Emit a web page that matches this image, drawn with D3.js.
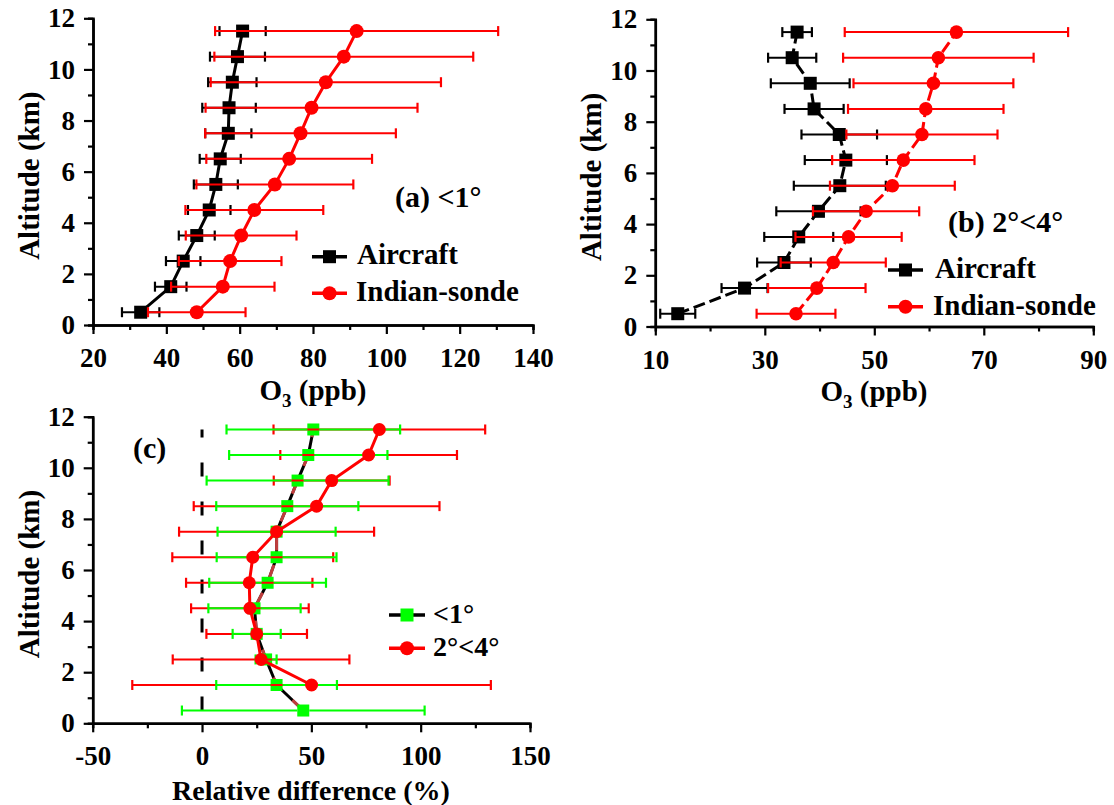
<!DOCTYPE html>
<html><head><meta charset="utf-8">
<script src="https://cdn.jsdelivr.net/npm/d3@7"></script>
<style>
body{margin:0;background:#fff}
text{font-family:"Liberation Serif","Times New Roman",serif;font-weight:bold;fill:#000}
</style>
</head><body>
<svg id="chart" width="1114" height="805"></svg>
<script>
// ---------- data ----------
const altitudes = [0.5,1.5,2.5,3.5,4.5,5.5,6.5,7.5,8.5,9.5,10.5,11.5];
const aAircraft    = [33.0,41.2,44.6,48.3,51.7,53.5,54.7,56.9,57.1,58.0,59.4,60.8];
const aAircraftErr = [5.1,4.3,4.7,4.9,5.8,6.0,5.6,6.3,7.3,6.6,7.5,6.3];
const aSonde       = [48.3,55.4,57.4,60.4,64.0,69.6,73.5,76.6,79.6,83.5,88.4,91.9];
const aSondeErr    = [13.3,14.1,14.0,15.1,18.8,21.4,22.6,26.0,28.9,31.4,35.3,38.6];
const bAircraft    = [14.1,26.3,33.5,36.2,39.8,43.7,44.8,43.6,39.0,38.3,35.0,35.9];
const bAircraftErr = [3.2,4.2,4.9,6.3,7.7,8.4,7.5,6.9,5.4,7.2,4.4,2.7];
const bSonde       = [35.7,39.5,42.5,45.3,48.5,53.3,55.3,58.7,59.4,60.8,61.7,65.0];
const bSondeErr    = [7.2,8.9,9.6,9.7,9.7,11.4,13.0,13.8,14.2,14.6,17.4,20.4];
const cNear        = [46.3,34.1,29.3,25.0,24.0,30.0,34.1,34.1,39.0,43.7,48.6,50.9];
const cNearErr     = [55.5,27.6,4.8,11.0,21.1,26.7,27.4,27.0,32.5,41.6,36.2,39.7];
const cFarAltitudes = [1.5,2.5,3.5,4.5,5.5,6.5,7.5,8.5,9.5,10.5,11.5];
const cFar         = [50.1,27.0,25.0,21.9,21.6,23.2,34.1,52.4,59.3,76.2,81.1];
const cFarErr      = [82.0,40.4,23.0,26.9,28.9,36.8,44.6,56.2,26.5,40.4,48.4];
const cZero        = altitudes.map(() => 0);

const aXTicks = [20,40,60,80,100,120,140];
const aXMinor = [30,50,70,90,110,130];
const bXTicks = [10,30,50,70,90];
const bXMinor = [20,40,60,80];
const cXTicks = [-50,0,50,100,150];
const cXMinor = [-25,25,75,125];
const yTicks = [0,2,4,6,8,10,12];
const yMinor = [1,3,5,7,9,11];

const labelsA = ["Aircraft","Indian-sonde"];
const labelsC = ["<1°","2°<4°"];

// ---------- drawing ----------
const svg = d3.select("#chart");
const RED = "#ff0000", GREEN = "#00ff00", BLACK = "#000000";

function makePanel(o) {
  const g = svg.append("g");
  const x = d3.scaleLinear().domain(o.xDomain).range([o.x0, o.x1]);
  const y = d3.scaleLinear().domain([0, 12]).range([o.y0, o.y1]);
  g.append("g").attr("transform", `translate(0,${o.y0})`)
    .call(d3.axisBottom(x).tickValues(o.xMinor).tickSize(5).tickFormat(""));
  g.append("g").attr("transform", `translate(${o.x0},0)`)
    .call(d3.axisLeft(y).tickValues(yMinor).tickSize(5).tickFormat(""));
  g.append("g").attr("transform", `translate(0,${o.y0})`)
    .call(d3.axisBottom(x).tickValues(o.xTicks).tickSize(9).tickSizeOuter(0).tickPadding(14).tickFormat(d => String(d)));
  g.append("g").attr("transform", `translate(${o.x0},0)`)
    .call(d3.axisLeft(y).tickValues(yTicks).tickSize(9).tickSizeOuter(0).tickPadding(9).tickFormat(d => String(d)));
  g.selectAll(".domain").attr("stroke", BLACK).attr("stroke-width", 2.5);
  g.selectAll(".tick line").attr("stroke", BLACK).attr("stroke-width", 2.2);
  g.selectAll(".tick text").attr("font-family", null).attr("font-size", null)
    .style("font-size", "27px").style("font-family", '"Liberation Serif","Times New Roman",serif').style("font-weight","bold").attr("fill", BLACK);
  g.append("text").attr("transform", `translate(${o.x0 - 54},${(o.y0 + o.y1) / 2 + 4}) rotate(-90)`)
    .attr("text-anchor", "middle").style("font-size", "29px").text("Altitude (km)");
  return {g, x, y};
}

function pts(alts, vals, errs) { return alts.map((a, i) => ({a, v: vals[i], e: errs[i]})); }

function errorBars(P, data, color, cap, gapHalf) {
  const g = P.g.append("g");
  data.forEach(d => {
    const xl = P.x(d.v - d.e), xr = P.x(d.v + d.e), xc = P.x(d.v), yy = P.y(d.a);
    if (gapHalf) {
      g.append("line").attr("x1", xl).attr("x2", xc - gapHalf).attr("y1", yy).attr("y2", yy).attr("stroke", color).attr("stroke-width", 2);
      g.append("line").attr("x1", xc + gapHalf).attr("x2", xr).attr("y1", yy).attr("y2", yy).attr("stroke", color).attr("stroke-width", 2);
    } else {
      g.append("line").attr("x1", xl).attr("x2", xr).attr("y1", yy).attr("y2", yy).attr("stroke", color).attr("stroke-width", 2);
    }
    [xl, xr].forEach(xx => g.append("line").attr("x1", xx).attr("x2", xx).attr("y1", yy - cap / 2).attr("y2", yy + cap / 2).attr("stroke", color).attr("stroke-width", 2.2));
  });
}

function lineOf(P, data, color, dash, width, opacity) {
  const l = d3.line().x(d => P.x(d.v)).y(d => P.y(d.a));
  P.g.append("path").datum(data).attr("d", l).attr("fill", "none").attr("stroke", color)
    .attr("stroke-width", width || 3).attr("stroke-dasharray", dash || null).attr("stroke-opacity", opacity || 1);
}

function squares(P, data, color, s) {
  P.g.append("g").selectAll("rect").data(data).join("rect")
    .attr("x", d => P.x(d.v) - s / 2).attr("y", d => P.y(d.a) - s / 2).attr("width", s).attr("height", s).attr("fill", color);
}
function circles(P, data, color, r) {
  P.g.append("g").selectAll("circle").data(data).join("circle")
    .attr("cx", d => P.x(d.v)).attr("cy", d => P.y(d.a)).attr("r", r).attr("fill", color);
}

function legendItem(g, x1, x2, yy, color, shape, size, label, tx, ty, fs, symColor) {
  g.append("line").attr("x1", x1).attr("x2", x2).attr("y1", yy).attr("y2", yy).attr("stroke", color).attr("stroke-width", 3.5);
  const cx = (x1 + x2) / 2;
  if (shape === "sq") g.append("rect").attr("x", cx - size / 2).attr("y", yy - size / 2).attr("width", size).attr("height", size).attr("fill", symColor || color);
  else g.append("circle").attr("cx", cx).attr("cy", yy).attr("r", size / 2).attr("fill", symColor || color);
  g.append("text").attr("x", tx).attr("y", ty).style("font-size", fs + "px").text(label);
}

function xTitleO3(P, cx, by) {
  const t = P.g.append("text").attr("x", cx).attr("y", by).attr("text-anchor", "middle").style("font-size", "29px");
  t.append("tspan").text("O");
  t.append("tspan").attr("dy", 7).style("font-size", "19px").text("3");
  t.append("tspan").attr("dy", -7).text(" (ppb)");
}

// Panel (a)
const A = makePanel({xDomain: [20, 140], x0: 93, x1: 533, y0: 325, y1: 18.3, xTicks: aXTicks, xMinor: aXMinor});
const aAir = pts(altitudes, aAircraft, aAircraftErr), aSon = pts(altitudes, aSonde, aSondeErr);
errorBars(A, aAir, BLACK, 10);
lineOf(A, aAir, BLACK);
squares(A, aAir, BLACK, 13);
errorBars(A, aSon, RED, 10);
lineOf(A, aSon, RED);
circles(A, aSon, RED, 7);
xTitleO3(A, 313, 400);
A.g.append("text").attr("x", 395).attr("y", 207).style("font-size", "30px").text("(a) <1°");
legendItem(A.g, 312, 347, 256.7, BLACK, "sq", 13, labelsA[0], 357, 264, 29);
legendItem(A.g, 312, 347, 293.3, RED, "ci", 14, labelsA[1], 356, 301, 29);

// Panel (b)
const B = makePanel({xDomain: [10, 90], x0: 655.3, x1: 1093.3, y0: 326.5, y1: 19.3, xTicks: bXTicks, xMinor: bXMinor});
const bAir = pts(altitudes, bAircraft, bAircraftErr), bSon = pts(altitudes, bSonde, bSondeErr);
errorBars(B, bAir, BLACK, 10);
lineOf(B, bAir, BLACK, "12,5");
squares(B, bAir, BLACK, 13);
errorBars(B, bSon, RED, 10);
lineOf(B, bSon, RED, "12,5");
circles(B, bSon, RED, 6.8);
xTitleO3(B, 874, 401);
B.g.append("text").attr("x", 948).attr("y", 232).style("font-size", "30px").text("(b) 2°<4°");
legendItem(B.g, 888, 923, 270, BLACK, "sq", 13, labelsA[0], 935, 278, 29);
legendItem(B.g, 888, 923, 306.7, RED, "ci", 14, labelsA[1], 933, 315, 29);

// Panel (c)
const C = makePanel({xDomain: [-50, 150], x0: 92.7, x1: 530, y0: 723.3, y1: 416.7, xTicks: cXTicks, xMinor: cXMinor});
const cZ = pts(altitudes, cZero, cZero);
lineOf(C, cZ, BLACK, "14,25", 3);
const cN = pts(altitudes, cNear, cNearErr), cF = pts(cFarAltitudes, cFar, cFarErr);
lineOf(C, cN, BLACK, null, 3);
lineOf(C, cN, "#e04848", "15,15", 3, 0.85);
squares(C, cN, GREEN, 12);
errorBars(C, cF, RED, 10);
errorBars(C, cN, GREEN, 10, 6);
lineOf(C, cF, RED, null, 3);
circles(C, cF, RED, 6.5);
C.g.append("text").attr("x", 311).attr("y", 800).attr("text-anchor", "middle").style("font-size", "28px").text("Relative difference (%)");
C.g.append("text").attr("x", 133).attr("y", 458).style("font-size", "30px").text("(c)");
legendItem(C.g, 389, 425, 615, BLACK, "sq", 13, labelsC[0], 433, 623, 28, GREEN);
legendItem(C.g, 389, 425, 648.3, RED, "ci", 14, labelsC[1], 433, 656, 28);
</script>
</body></html>
